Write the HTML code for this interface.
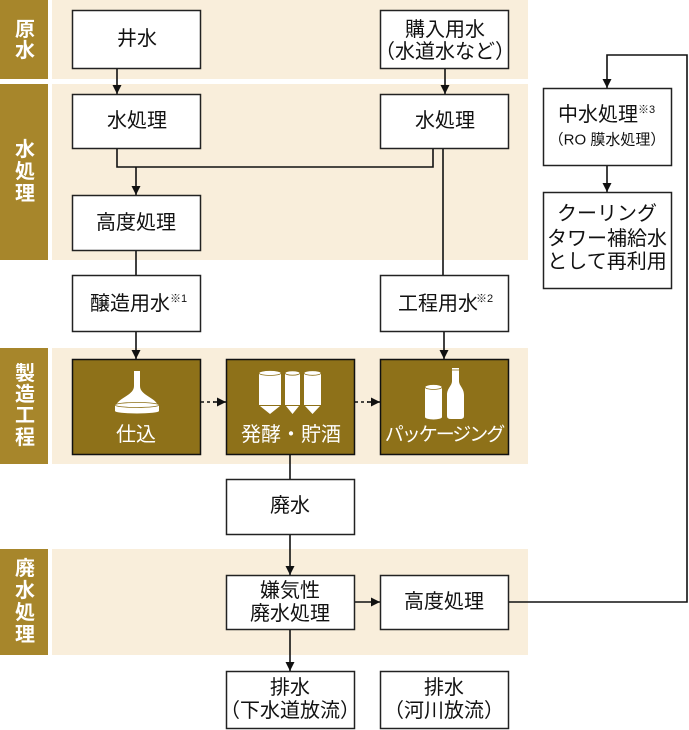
<!DOCTYPE html>
<html><head><meta charset="utf-8">
<style>
html,body{margin:0;padding:0;background:#fff;}
svg{display:block;}
text{font-family:"Liberation Sans","Noto Sans CJK JP",sans-serif;}
</style></head>
<body>
<svg width="689" height="730" viewBox="0 0 689 730" xmlns="http://www.w3.org/2000/svg">
<defs>
<marker id="ah" viewBox="0 0 10 10" refX="10" refY="5" markerWidth="10" markerHeight="9" markerUnits="userSpaceOnUse" orient="auto">
<path d="M0,0 L10,5 L0,10 Z" fill="#111"/>
</marker>
<marker id="ah2" viewBox="0 0 10 10" refX="10" refY="5" markerWidth="14" markerHeight="9" markerUnits="userSpaceOnUse" orient="auto">
<path d="M0,0 L10,5 L0,10 Z" fill="#111"/>
</marker>
</defs>

<!-- bands -->
<rect x="52" y="0" width="476" height="79" fill="#f9eedb"/>
<rect x="52" y="84" width="476" height="176" fill="#f9eedb"/>
<rect x="52" y="348" width="476" height="116" fill="#f9eedb"/>
<rect x="52" y="549" width="476" height="106" fill="#f9eedb"/>

<!-- labels -->
<g fill="#a7862b">
<rect x="0" y="0" width="48" height="79"/>
<rect x="0" y="84" width="48" height="176"/>
<rect x="0" y="348" width="48" height="116"/>
<rect x="0" y="549" width="48" height="106"/>
</g>
<g fill="#fff" font-size="20" font-weight="bold" text-anchor="middle" dominant-baseline="central">
<text x="25" y="30">原</text><text x="25" y="51">水</text>
<text x="25" y="150">水</text><text x="25" y="172">処</text><text x="25" y="194">理</text>
<text x="25" y="374">製</text><text x="25" y="395">造</text><text x="25" y="416">工</text><text x="25" y="438">程</text>
<text x="25" y="569">廃</text><text x="25" y="591">水</text><text x="25" y="613">処</text><text x="25" y="635">理</text>
</g>

<!-- connectors -->
<g stroke="#111" stroke-width="1.6" fill="none">
<line x1="117" y1="68" x2="117" y2="94" marker-end="url(#ah)"/>
<line x1="445" y1="68" x2="445" y2="94" marker-end="url(#ah)"/>
<polyline points="117,148 117,167 433,167 433,148"/>
<line x1="136" y1="167" x2="136" y2="195" marker-end="url(#ah)"/>
<line x1="443" y1="148" x2="443" y2="275"/>
<line x1="136" y1="251" x2="136" y2="275"/>
<line x1="136" y1="331" x2="136" y2="359" marker-end="url(#ah)"/>
<line x1="444" y1="331" x2="444" y2="359" marker-end="url(#ah)"/>
<line x1="201" y1="402" x2="214" y2="402" stroke-dasharray="3,3"/>
<line x1="213" y1="402" x2="226" y2="402" marker-end="url(#ah2)"/>
<line x1="355" y1="402" x2="368" y2="402" stroke-dasharray="3,3"/>
<line x1="367" y1="402" x2="380" y2="402" marker-end="url(#ah2)"/>
<line x1="290" y1="454" x2="290" y2="479"/>
<line x1="290" y1="534" x2="290" y2="575" marker-end="url(#ah)"/>
<line x1="290" y1="629" x2="290" y2="671" marker-end="url(#ah)"/>
<line x1="354" y1="602" x2="380" y2="602" marker-end="url(#ah2)"/>
<polyline points="508,602 687,602 687,55 607,55 607,88" marker-end="url(#ah)"/>
<line x1="607" y1="165" x2="607" y2="192" marker-end="url(#ah)"/>
</g>

<!-- white boxes -->
<g fill="#fff" stroke="#222" stroke-width="1.5">
<rect x="72.5" y="10.5" width="128" height="58"/>
<rect x="380.5" y="10.5" width="128" height="58"/>
<rect x="72.5" y="94.5" width="128" height="54"/>
<rect x="380.5" y="94.5" width="128" height="54"/>
<rect x="72.5" y="195.5" width="128" height="55"/>
<rect x="72.5" y="275.5" width="128" height="56"/>
<rect x="380.5" y="275.5" width="128" height="56"/>
<rect x="543.5" y="88.5" width="128" height="77"/>
<rect x="543.5" y="192.5" width="128" height="96"/>
<rect x="226.5" y="479.5" width="128" height="55"/>
<rect x="226.5" y="575.5" width="128" height="54"/>
<rect x="380.5" y="575.5" width="128" height="54"/>
<rect x="226.5" y="671.5" width="128" height="57"/>
<rect x="380.5" y="671.5" width="128" height="57"/>
</g>

<!-- dark boxes -->
<g fill="#8e7119" stroke="#111" stroke-width="1.5">
<rect x="72.5" y="359.5" width="128" height="95"/>
<rect x="226.5" y="359.5" width="128" height="95"/>
<rect x="380.5" y="359.5" width="128" height="95"/>
</g>

<!-- box text -->
<g fill="#111" font-size="20" text-anchor="middle" dominant-baseline="central">
<text x="137" y="39">井水</text>
<text x="445" y="30">購入用水</text>
<text x="445" y="52">（水道水など）</text>
<text x="137" y="121">水処理</text>
<text x="445" y="121">水処理</text>
<text x="136" y="223">高度処理</text>
<text x="130" y="304">醸造用水</text>
<text x="438" y="304">工程用水</text>
<text x="598" y="115">中水処理</text>
<text x="607" y="140" font-size="15">（RO 膜水処理）</text>
<text x="607" y="214">クーリング</text>
<text x="607" y="239">タワー補給水</text>
<text x="607" y="262">として再利用</text>
<text x="290" y="506">廃水</text>
<text x="290" y="591">嫌気性</text>
<text x="290" y="614">廃水処理</text>
<text x="444" y="602">高度処理</text>
<text x="290" y="688">排水</text>
<text x="290" y="711">（下水道放流）</text>
<text x="444" y="688">排水</text>
<text x="444" y="711">（河川放流）</text>
</g>
<g fill="#111" font-size="11">
<text x="170" y="302">※1</text>
<text x="476" y="302">※2</text>
<text x="638" y="113">※3</text>
</g>

<!-- dark box text -->
<g fill="#fff" font-size="20" text-anchor="middle" dominant-baseline="central">
<text x="136" y="435">仕込</text>
<text x="291" y="435">発酵・貯酒</text>
<text x="444" y="435" font-size="19" letter-spacing="-2">パッケージング</text>
</g>

<!-- icons -->
<g fill="#fff" stroke="none">
<!-- funnel -->
<rect x="134" y="371" width="6" height="16"/>
<path d="M134,386 C134,395 120,397 116,405 L158,405 C154,397 140,395 140,386 Z"/>
<rect x="115" y="405" width="44" height="6"/>
<ellipse cx="137" cy="411" rx="22" ry="2.5"/>
<ellipse cx="137" cy="405" rx="22" ry="2.5" stroke="#8e7119" stroke-width="0.8"/>
<!-- tanks -->
<rect x="259" y="373" width="22" height="32"/>
<path d="M260,406 L270,414 L280,406 Z"/>
<ellipse cx="270" cy="373" rx="11" ry="2.5" stroke="#8e7119" stroke-width="0.8"/>
<rect x="285" y="373" width="15" height="32"/>
<path d="M286,406 L292.5,414 L299,406 Z"/>
<ellipse cx="292.5" cy="373" rx="7.5" ry="2.2" stroke="#8e7119" stroke-width="0.8"/>
<rect x="304" y="373" width="17" height="32"/>
<path d="M305,406 L312.5,414 L320,406 Z"/>
<ellipse cx="312.5" cy="373" rx="8.5" ry="2.3" stroke="#8e7119" stroke-width="0.8"/>
<!-- glass -->
<rect x="425" y="387" width="17" height="30"/>
<ellipse cx="433.5" cy="417" rx="8.5" ry="2.5"/>
<ellipse cx="433.5" cy="387" rx="8.5" ry="2.5" stroke="#8e7119" stroke-width="0.8"/>
<!-- bottle -->
<path d="M452,368 L459,368 L459,381 C459,386 464,388 464,395 L464,416 Q464,419 460,419 L451,419 Q447,419 447,416 L447,395 C447,388 452,386 452,381 Z"/>
</g>
<g stroke="#8e7119" stroke-width="0.8" fill="none">
<line x1="259" y1="405.5" x2="281" y2="405.5"/>
<line x1="285" y1="405.5" x2="300" y2="405.5"/>
<line x1="304" y1="405.5" x2="321" y2="405.5"/>
<line x1="452" y1="370" x2="459" y2="370"/>
</g>
</svg>
</body></html>
